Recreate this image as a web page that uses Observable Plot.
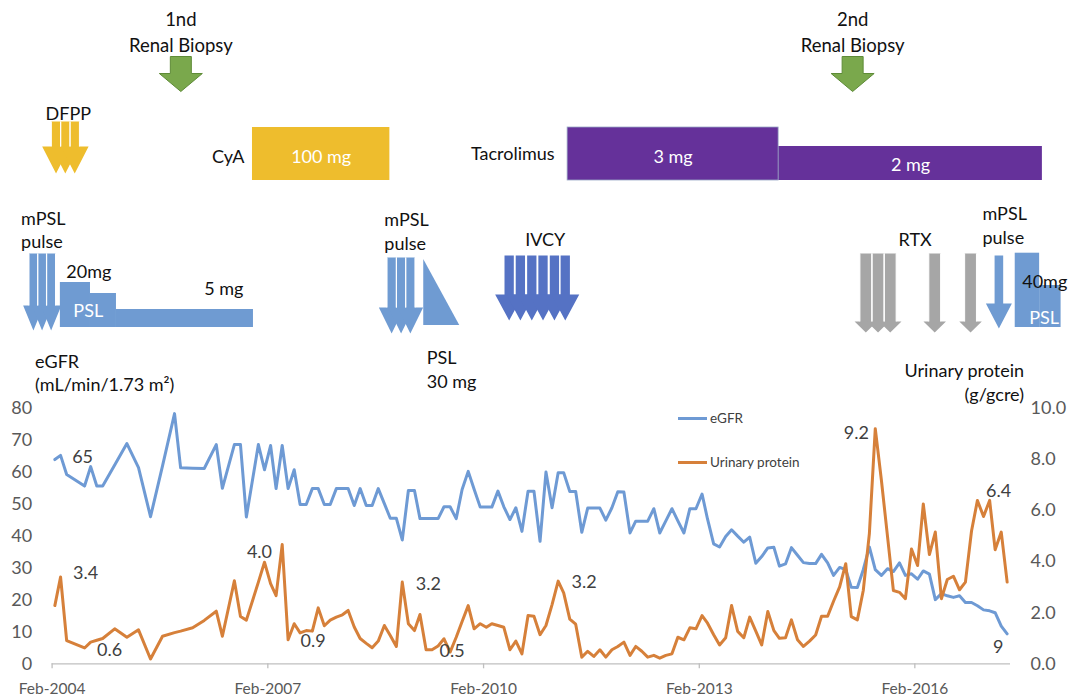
<!DOCTYPE html>
<html><head><meta charset="utf-8">
<script src="https://cdn.jsdelivr.net/npm/d3@7"></script>
<script src="https://cdn.jsdelivr.net/npm/@observablehq/plot@0.6"></script>
<style>
body{margin:0;background:#fff;}
#wrap{position:relative;width:1071px;height:698px;overflow:hidden;}
.lg{position:absolute;left:678px;height:18px;font-family:Lato,sans-serif;font-size:13.5px;color:#404040;white-space:nowrap;}
.lg .sw{position:absolute;left:0;top:7.5px;width:29px;height:3px;}
.lg .tx{position:absolute;left:32px;top:0;line-height:18px;}
</style></head>
<body><div id="wrap"></div>
<script>
// ================= DATA =================
const months = [
 "2004-02","2004-03","2004-04","2004-07","2004-08","2004-09","2004-10","2004-12",
 "2005-02","2005-04","2005-06","2005-08","2005-10","2005-11",
 "2006-01","2006-03","2006-05","2006-06","2006-08","2006-09","2006-10","2006-12",
 "2007-01","2007-02","2007-03","2007-04","2007-05","2007-06","2007-07","2007-08","2007-09","2007-10","2007-11","2007-12",
 "2008-01","2008-02","2008-03","2008-04","2008-05","2008-06","2008-07","2008-08","2008-09","2008-10","2008-11","2008-12",
 "2009-01","2009-02","2009-03","2009-04","2009-05","2009-06","2009-07","2009-08","2009-09","2009-10","2009-11","2009-12",
 "2010-01","2010-02","2010-03","2010-04","2010-05","2010-06","2010-07","2010-08","2010-09","2010-10","2010-11","2010-12",
 "2011-01","2011-02","2011-03","2011-04","2011-05","2011-06","2011-07","2011-08","2011-09","2011-10","2011-11","2011-12",
 "2012-01","2012-02","2012-03","2012-04","2012-05","2012-06","2012-07","2012-08","2012-09","2012-10","2012-11","2012-12",
 "2013-01","2013-02","2013-03","2013-04","2013-05","2013-06","2013-07","2013-08","2013-09","2013-10","2013-11","2013-12",
 "2014-01","2014-02","2014-03","2014-04","2014-05","2014-06","2014-07","2014-08","2014-09","2014-10","2014-11","2014-12",
 "2015-01","2015-02","2015-03","2015-04","2015-05","2015-06","2015-07","2015-08","2015-09","2015-10","2015-11","2015-12",
 "2016-01","2016-02","2016-03","2016-04","2016-05","2016-06","2016-07","2016-08","2016-09","2016-10","2016-11","2016-12",
 "2017-01","2017-02","2017-03","2017-04","2017-05"
];
// eGFR (mL/min/1.73 m2)
const egfr = [
 64.0,65.3,59.3,55.7,61.8,55.7,55.7,62.3,
 69.0,61.5,46.1,62.0,78.4,61.4,
 61.3,61.2,68.7,55.0,68.7,68.7,46.0,68.7,
 60.8,68.4,54.9,68.4,54.9,60.8,49.9,49.9,54.9,54.9,49.9,49.9,
 54.9,54.9,54.9,49.6,54.9,49.6,49.6,54.9,50.2,45.6,45.6,38.8,
 54.3,54.3,45.5,45.5,45.5,45.5,49.2,49.2,45.5,54.6,60.3,54.7,
 49.1,49.1,49.1,54.1,49.2,45.2,48.9,41.5,54.1,54.1,38.4,60.1,
 48.9,59.9,59.9,54.0,54.0,41.2,48.8,48.8,48.8,45.0,48.9,53.9,
 53.8,41.0,44.7,44.7,44.7,48.6,41.0,44.8,48.6,44.8,41.0,48.6,
 48.6,53.2,45.3,37.6,36.6,39.9,42.0,40.0,38.1,39.7,31.5,33.6,
 36.3,36.5,30.6,31.3,36.4,34.0,31.7,31.4,31.4,34.3,31.6,27.7,
 30.2,29.5,24.0,23.9,29.5,36.6,29.5,27.7,29.8,28.9,31.6,27.7,
 28.2,26.5,29.1,28.1,20.1,22.0,21.3,20.8,21.3,19.2,19.2,18.2,
 16.9,16.6,16.0,11.8,9.4
];
// Urinary protein (g/gcre)
const protein = [
 2.28,3.40,0.91,0.62,0.85,0.92,0.99,1.37,
 1.04,1.33,0.19,1.08,1.22,1.28,
 1.41,1.70,2.06,1.08,3.25,1.85,1.71,3.20,
 3.98,3.14,2.67,4.67,0.94,1.57,1.21,1.30,1.28,2.19,1.49,1.71,
 1.83,1.92,2.09,1.44,0.99,0.80,0.63,0.89,1.50,1.11,0.68,3.20,
 1.57,1.30,1.93,0.55,0.55,0.70,0.98,0.46,1.04,1.66,2.28,1.37,
 1.57,1.43,1.57,1.50,1.43,0.55,0.89,0.39,1.89,1.86,1.14,1.50,
 2.32,3.24,2.78,1.75,1.55,0.26,0.49,0.29,0.55,0.26,0.55,0.68,
 0.85,0.33,0.68,0.49,0.26,0.33,0.22,0.33,0.39,1.04,0.94,1.41,
 1.37,1.89,1.59,1.14,0.74,1.02,2.28,1.27,1.02,1.83,1.28,0.74,
 2.05,1.30,1.00,1.02,1.72,0.94,0.68,0.89,1.13,1.86,1.86,2.45,
 3.01,3.92,1.85,1.72,2.87,5.10,9.21,7.20,5.00,2.87,2.80,2.55,
 4.50,3.85,6.26,4.28,5.16,2.55,3.30,3.43,2.90,3.20,5.20,6.40,
 5.77,6.40,4.47,5.16,3.20
];
// data labels shown on the chart
const egfrLabelMonths = ["2004-03","2017-05"];
const proteinLabelMonths = ["2004-03","2004-07","2007-01","2007-05","2008-12","2009-08","2011-02","2015-07","2017-02"];
// axis ticks
const leftTicks = [0,10,20,30,40,50,60,70,80];
const rightTicks = [0,2,4,6,8,10];
const xTickDates = ["2004-02-01","2007-02-01","2010-02-01","2013-02-01","2016-02-01"];
const xDomain = ["2004-02-01","2017-06-01"];

// treatment timeline
const biopsyDates = ["2005-11-16","2015-03-22"];
const biopsyNames = ["1nd","2nd"];
const dfppDates = ["2004-02-21","2004-04-08","2004-05-26"];
const pulse1Dates = ["2003-10-29","2003-12-12","2004-01-27"];
const pulse2Dates = ["2008-10-22","2008-12-09","2009-01-25"];
const pulse3Dates = ["2017-04-03"];
const ivcyDates = ["2010-06-11","2010-08-07","2010-10-04","2010-11-30","2011-01-27","2011-03-23"];
const rtxDates = ["2015-05-28","2015-07-29","2015-09-29","2016-05-12","2016-11-10"];
const psl1Start = ["2004-03-14","2004-08-14","2004-12-24"];
const psl1End   = ["2004-08-14","2004-12-24","2006-11-20"];
const pslTaper  = ["2009-04-03","2009-10-03"];
const psl2Start = ["2017-06-25","2017-10-27"];
const psl2End   = ["2017-10-27","2018-02-13"];
const cyaStart = ["2006-11-15"], cyaEnd = ["2008-10-13"], cyaDose = ["100 mg"];
const tacStart = ["2011-04-04","2014-03-11"], tacEnd = ["2014-03-11","2017-11-10"], tacDose = ["3 mg","2 mg"];

// ================= LAYOUT / STYLE =================
const W = 1071, H = 698, TOP = 408, BOTTOM = 663.3, LEFT = 51.6, RIGHT = 1010;
const yAt = px => (BOTTOM - px) / (BOTTOM - TOP) * 80;   // pixel row -> y units
const P2E = 80 / 10;                                      // right axis -> left axis
const ROW = {
  biopsyText: 30.5, biopsyTop: 56, biopsyHead: 73, biopsyTip: 91,
  dfppText: 112, dfppTop: 121, dfppHead: 146, dfppTip: 173,
  drugTop: 127, drugBottom: 180, tac2Top: 146, drugText: 155, tac2Text: 163,
  pulse1Text: 228.5, pulse1Top: 253, pulse1Head: 305, pulse1Tip: 330,
  psl1Tops: [282, 293, 309], psl1Bottom: 327, psl1Text: 309, dose20: 270, dose5: 287,
  pulse2Text: 230, pulse2Top: 257, pulse2Head: 307, pulse2Tip: 333,
  taperTop: 259, taperBottom: 325, taperText: 367.5,
  ivcyText: 238, ivcyTop: 255, ivcyHead: 294, ivcyTip: 320,
  rtxText: 238, rtxTop: 253, rtxHead: 321, rtxTip: 332,
  pulse3Text: 224, pulse3Top: 255, pulse3Head: 303, pulse3Tip: 328,
  psl2Tops: [252.7, 285], psl2Bottom: 327, psl2Text: 316, dose40: 280
};
const egfrLabelOffsets = [[22,2],[-9,13]];
const proteinLabelOffsets = [[25,-4],[25,2],[-5,-10],[25,1],[26,2],[2,-1],[26,1],[-19,5],[9,-9]];
const C = {blue:"#6E9AD4", orange:"#D6803A", gold:"#EEBD2D", purple:"#65319A", psl:"#6F9BD2",
  ivcy:"#5572C4", grey:"#A6A6A6", green:"#7AA84C", greenEdge:"#5E8B37", text:"#111", tick:"#595959", lab:"#404040", axis:"#BFBFBF"};
const FONT = "Lato, sans-serif";

// ================= BUILD =================
const parseDay = d3.utcParse("%Y-%m-%d");
const parseMonth = s => { const [y, m] = s.split("-").map(Number); return new Date(Date.UTC(y, m - 1, 15)); };
const rows = months.map((m, i) => ({date: parseMonth(m), egfr: egfr[i], protein: protein[i]}));
const byMonth = new Map(months.map((m, i) => [m, rows[i]]));
const D = arr => arr.map(parseDay);
const mid = (a, b) => new Date((a.getTime() + b.getTime()) / 2);

const arrowSym = (sw, hw, hs, tip) => ({draw(c) {
  const s = sw / 2, h = hw / 2;
  c.moveTo(-s, 0); c.lineTo(s, 0); c.lineTo(s, hs); c.lineTo(h, hs);
  c.lineTo(0, tip); c.lineTo(-h, hs); c.lineTo(-s, hs); c.closePath();
}});
const edgeSym = (sw, hs) => ({draw(c) {
  const s = sw / 2; c.moveTo(-s, 0); c.lineTo(-s, hs); c.moveTo(s, 0); c.lineTo(s, hs);
}});
function arrows(dates, fill, top, head, tip, sw, hw, opt = {}) {
  const ds = D(dates);
  const out = [Plot.dot(ds, {x: d => d, y: () => yAt(top), symbol: arrowSym(sw, hw, head - top, tip - top),
    fill, stroke: opt.stroke || "none", strokeWidth: opt.stroke ? 1 : 0})];
  if (opt.sep) out.push(Plot.dot(ds, {x: d => d, y: () => yAt(top), symbol: edgeSym(sw, head - top),
    fill: "none", stroke: "white", strokeWidth: 1}));
  return out;
}
const txt = (data, o) => Plot.text(data, {fontSize: 18, fill: C.text, lineHeight: 1.3, lineAnchor: "middle", ...o});

const psl1 = psl1Start.map((s, i) => ({x1: parseDay(s), x2: parseDay(psl1End[i]), top: ROW.psl1Tops[i]}));
const psl2 = psl2Start.map((s, i) => ({x1: parseDay(s), x2: parseDay(psl2End[i]), top: ROW.psl2Tops[i]}));
const cya = cyaStart.map((s, i) => ({x1: parseDay(s), x2: parseDay(cyaEnd[i]), dose: cyaDose[i]}));
const tac = tacStart.map((s, i) => ({x1: parseDay(s), x2: parseDay(tacEnd[i]), dose: tacDose[i],
  top: i === 0 ? ROW.drugTop : ROW.tac2Top, ty: i === 0 ? ROW.drugText : ROW.tac2Text}));
const taper = [{x: parseDay(pslTaper[0]), top: ROW.taperTop}, {x: parseDay(pslTaper[1]), top: ROW.taperBottom}];
const rtxD = D(rtxDates), ivcyD = D(ivcyDates);

const fmtE = d3.format(".0f"), fmtP = d3.format(".1f");
const labelMarks = [
  ...egfrLabelMonths.map((m, i) => Plot.text([byMonth.get(m)], {x: "date", y: "egfr", text: d => fmtE(d.egfr),
    dx: egfrLabelOffsets[i][0], dy: egfrLabelOffsets[i][1], fontSize: 18, fill: C.lab})),
  ...proteinLabelMonths.map((m, i) => Plot.text([byMonth.get(m)], {x: "date", y: d => d.protein * P2E, text: d => fmtP(d.protein),
    dx: proteinLabelOffsets[i][0], dy: proteinLabelOffsets[i][1], fontSize: 18, fill: C.lab}))
];

const chart = Plot.plot({
  width: W, height: H,
  marginLeft: LEFT, marginRight: W - RIGHT, marginTop: TOP, marginBottom: H - BOTTOM,
  x: {type: "utc", domain: D(xDomain), axis: null},
  y: {domain: [0, 80], axis: null},
  style: {fontFamily: FONT, fontSize: "17px", background: "white", color: C.text},
  marks: [
    // ---- axes ----
    Plot.ruleY([0], {stroke: C.axis, strokeWidth: 1.3}),
    Plot.ruleX(D(xTickDates), {x: d => d, y1: 0, y2: () => yAt(BOTTOM + 5), stroke: C.axis, strokeWidth: 1.3}),
    Plot.text(D(xTickDates), {x: d => d, text: d => d3.utcFormat("%b-%Y")(d), frameAnchor: "bottom", lineAnchor: "middle", dy: 25, fontSize: 15.5, fill: C.tick}),
    Plot.text(leftTicks, {y: d => d, text: d => String(d), frameAnchor: "left", lineAnchor: "middle", dx: -20, textAnchor: "end", fontSize: 18, fill: C.tick}),
    Plot.text(rightTicks, {y: d => d * P2E, text: d => d.toFixed(1), frameAnchor: "right", lineAnchor: "middle", dx: 20, textAnchor: "start", fontSize: 18, fill: C.tick}),
    Plot.text(["eGFR\n(mL/min/1.73 m²)"], {text: d => d, frameAnchor: "top-left", lineAnchor: "middle", dx: -17, dy: -36.5, textAnchor: "start", fontSize: 18, lineHeight: 1.28, fill: C.text}),
    Plot.text(["Urinary protein\n(g/gcre)"], {text: d => d, frameAnchor: "top-right", lineAnchor: "middle", dx: 13.5, dy: -27, textAnchor: "end", fontSize: 18, lineHeight: 1.3, fill: C.text}),
    // ---- series ----
    Plot.line(rows, {x: "date", y: "egfr", stroke: C.blue, strokeWidth: 3, strokeLinejoin: "round"}),
    Plot.line(rows, {x: "date", y: d => d.protein * P2E, stroke: C.orange, strokeWidth: 3, strokeLinejoin: "round"}),
    ...labelMarks,
    // ---- renal biopsies ----
    ...arrows(biopsyDates, C.green, ROW.biopsyTop, ROW.biopsyHead, ROW.biopsyTip, 21, 43, {stroke: C.greenEdge}),
    txt(D(biopsyDates), {x: d => d, y: () => yAt(ROW.biopsyText), text: (d, i) => `${biopsyNames[i]}\nRenal Biopsy`, lineHeight: 1.38, fontSize: 18.5}),
    // ---- DFPP ----
    ...arrows(dfppDates, C.gold, ROW.dfppTop, ROW.dfppHead, ROW.dfppTip, 9.4, 27.7, {sep: true}),
    txt([parseDay(dfppDates[1])], {x: d => d, y: () => yAt(ROW.dfppText), text: () => "DFPP", dx: 3}),
    // ---- CyA ----
    Plot.rect(cya, {x1: "x1", x2: "x2", y1: () => yAt(ROW.drugBottom), y2: () => yAt(ROW.drugTop), fill: C.gold}),
    txt(cya, {x: d => mid(d.x1, d.x2), y: () => yAt(ROW.drugText), text: "dose", fill: "white"}),
    txt(cya, {x: "x1", y: () => yAt(ROW.drugText), text: () => "CyA", dx: -8, textAnchor: "end"}),
    // ---- Tacrolimus ----
    Plot.rect(tac, {x1: "x1", x2: "x2", y1: () => yAt(ROW.drugBottom), y2: d => yAt(d.top), fill: C.purple}),
    Plot.rect(tac.slice(0, 1), {x1: "x1", x2: "x2", y1: () => yAt(ROW.drugBottom), y2: d => yAt(d.top), fill: "none", stroke: "#9AA9C6", strokeWidth: 0.8}),
    txt(tac, {x: d => mid(d.x1, d.x2), y: d => yAt(d.ty), text: "dose", fill: "white"}),
    txt(tac.slice(0, 1), {x: "x1", y: () => yAt(ROW.drugText - 3), text: () => "Tacrolimus", dx: -13, textAnchor: "end"}),
    // ---- first mPSL pulse + PSL ----
    ...arrows(pulse1Dates, C.psl, ROW.pulse1Top, ROW.pulse1Head, ROW.pulse1Tip, 8.8, 20.5, {sep: true}),
    txt([parseDay(pulse1Dates[0])], {x: d => d, y: () => yAt(ROW.pulse1Text), text: () => "mPSL\npulse", dx: -12.3, textAnchor: "start"}),
    Plot.rect(psl1, {x1: "x1", x2: "x2", y1: () => yAt(ROW.psl1Bottom), y2: d => yAt(d.top), fill: C.psl}),
    txt(psl1.slice(0, 1), {x: "x1", y: () => yAt(ROW.psl1Text), text: () => "PSL", dx: 13, textAnchor: "start", fill: "white"}),
    txt(psl1.slice(0, 1), {x: "x1", y: () => yAt(ROW.dose20), text: () => "20mg", dx: 6, textAnchor: "start"}),
    txt(psl1.slice(2), {x: "x2", y: () => yAt(ROW.dose5), text: () => "5 mg", dx: -10, textAnchor: "end"}),
    // ---- second mPSL pulse + PSL taper ----
    ...arrows(pulse2Dates, C.psl, ROW.pulse2Top, ROW.pulse2Head, ROW.pulse2Tip, 9.2, 25.6, {sep: true}),
    txt([parseDay(pulse2Dates[0])], {x: d => d, y: () => yAt(ROW.pulse2Text), text: () => "mPSL\npulse", dx: -7.3, textAnchor: "start"}),
    Plot.areaY(taper, {x: "x", y1: () => yAt(ROW.taperBottom), y2: d => yAt(d.top), fill: C.psl}),
    txt(taper.slice(0, 1), {x: "x", y: () => yAt(ROW.taperText), text: () => "PSL\n30 mg", dx: 3, textAnchor: "start", lineHeight: 1.38}),
    // ---- IVCY ----
    ...arrows(ivcyDates, C.ivcy, ROW.ivcyTop, ROW.ivcyHead, ROW.ivcyTip, 9.3, 28),
    txt([mid(ivcyD[0], ivcyD[ivcyD.length - 1])], {x: d => d, y: () => yAt(ROW.ivcyText), text: () => "IVCY", dx: 8}),
    // ---- RTX ----
    ...arrows(rtxDates, C.grey, ROW.rtxTop, ROW.rtxHead, ROW.rtxTip, 11.8, 22.5, {sep: true}),
    txt([mid(rtxD[0], rtxD[rtxD.length - 1])], {x: d => d, y: () => yAt(ROW.rtxText), text: () => "RTX", dx: -3}),
    // ---- third mPSL pulse + PSL 40 mg ----
    ...arrows(pulse3Dates, C.psl, ROW.pulse3Top, ROW.pulse3Head, ROW.pulse3Tip, 8.6, 26),
    txt(D(pulse3Dates), {x: d => d, y: () => yAt(ROW.pulse3Text), text: () => "mPSL\npulse", dx: -16.4, textAnchor: "start"}),
    Plot.rect(psl2, {x1: "x1", x2: "x2", y1: () => yAt(ROW.psl2Bottom), y2: d => yAt(d.top), fill: C.psl}),
    txt(psl2.slice(0, 1), {x: "x1", y: () => yAt(ROW.psl2Text), text: () => "PSL", dx: 14, textAnchor: "start", fill: "white"}),
    txt(psl2.slice(0, 1), {x: "x1", y: () => yAt(ROW.dose40), text: () => "40mg", dx: 7, textAnchor: "start"})
  ]
});
const wrap = document.getElementById("wrap");
wrap.appendChild(chart);

// legend (HTML overlay inside the plot area)
const legendItems = [{label: "eGFR", color: C.blue, top: 409.3}, {label: "Urinary protein", color: C.orange, top: 453.3}];
for (const it of legendItems) {
  const div = document.createElement("div");
  div.className = "lg"; div.style.top = it.top + "px";
  div.innerHTML = `<span class="sw" style="background:${it.color}"></span><span class="tx">${it.label}</span>`;
  wrap.appendChild(div);
}
</script>
</body></html>
